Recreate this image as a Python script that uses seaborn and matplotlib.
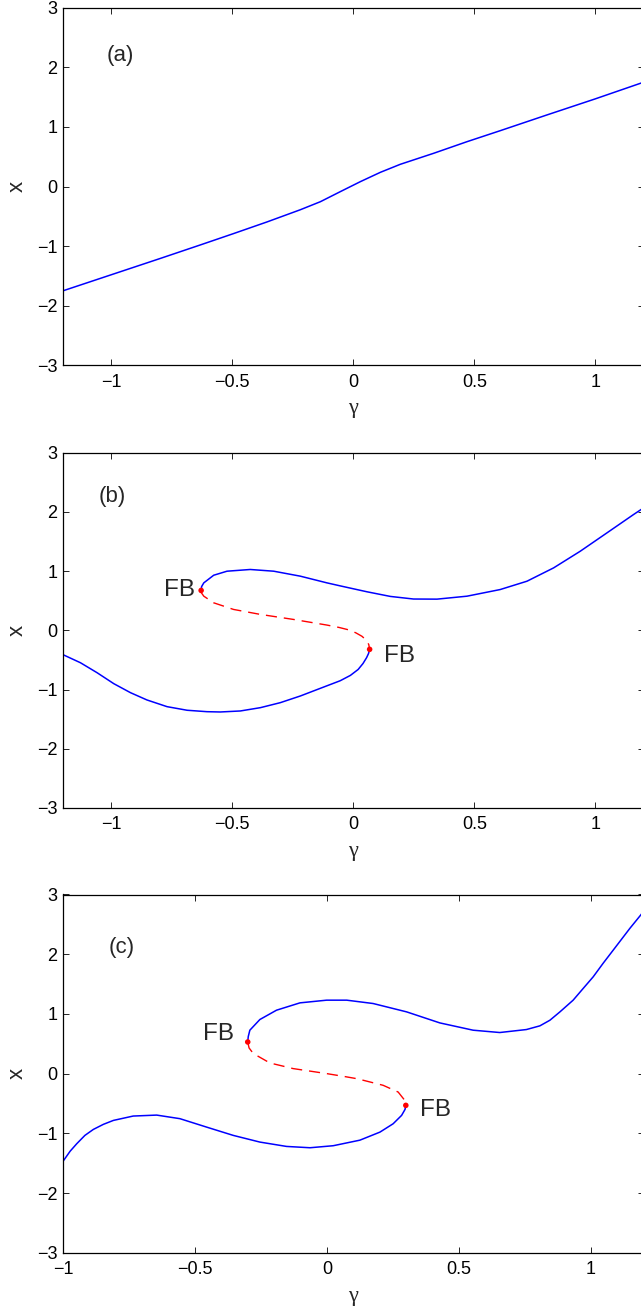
import matplotlib
matplotlib.use("Agg")
import matplotlib.pyplot as plt
import seaborn as sns
import pandas as pd
from matplotlib.ticker import FuncFormatter

# panel (a): single stable branch
gam_a = [-1.2, -1.0, -0.8, -0.632, -0.495, -0.357, -0.219, -0.136, -0.054, 0.029, 0.112, 0.194, 0.332, 0.470, 0.607, 0.8, 1.0, 1.2]
x_a = [-1.75, -1.48, -1.21, -0.98, -0.79, -0.595, -0.39, -0.255, -0.087, 0.081, 0.238, 0.372, 0.557, 0.752, 0.936, 1.20, 1.47, 1.75]

# panel (b): upper stable, unstable (dashed), lower stable
gam_b_up = [-0.629, -0.627, -0.618, -0.577, -0.522, -0.426, -0.329, -0.219, -0.109, -0.054, 0.029, 0.057, 0.153, 0.249,
            0.346, 0.470, 0.607, 0.718, 0.828, 0.938, 1.048, 1.158, 1.2]
x_b_up = [0.675, 0.74, 0.803, 0.932, 1.0, 1.029, 1.0, 0.916, 0.803, 0.752, 0.677, 0.652, 0.574, 0.53,
          0.528, 0.578, 0.69, 0.831, 1.056, 1.337, 1.646, 1.956, 2.07]
gam_b_mid = [-0.629, -0.627, -0.618, -0.577, -0.495, -0.384, -0.247, -0.109, -0.059, -0.02, 0.01, 0.036, 0.055, 0.064, 0.0675]
x_b_mid = [0.675, 0.63, 0.578, 0.466, 0.354, 0.27, 0.185, 0.09, 0.05, 0.01, -0.04, -0.10, -0.17, -0.24, -0.32]
gam_b_low = [-1.2, -1.128, -1.059, -0.990, -0.921, -0.853, -0.770, -0.687, -0.605, -0.550, -0.467, -0.384, -0.302,
             -0.219, -0.136, -0.054, -0.012, 0.020, 0.040, 0.055, 0.063, 0.0675]
x_b_low = [-0.41, -0.546, -0.715, -0.90, -1.052, -1.175, -1.288, -1.349, -1.373, -1.378, -1.361, -1.305, -1.221,
           -1.108, -0.978, -0.85, -0.76, -0.66, -0.56, -0.46, -0.39, -0.32]
fb_b_gam = [-0.629, 0.0675]
fb_b_x = [0.675, -0.32]

# panel (c)
gam_c_up = [-0.300, -0.298, -0.292, -0.254, -0.191, -0.102, -0.001, 0.075, 0.175, 0.302, 0.428, 0.554, 0.655, 0.756,
            0.807, 0.845, 0.883, 0.933, 0.971, 1.009, 1.047, 1.085, 1.116, 1.148, 1.189, 1.2]
x_c_up = [0.53, 0.62, 0.727, 0.906, 1.062, 1.185, 1.23, 1.23, 1.174, 1.034, 0.849, 0.727, 0.688, 0.738,
          0.80, 0.894, 1.034, 1.23, 1.426, 1.621, 1.85, 2.069, 2.248, 2.433, 2.656, 2.72]
gam_c_mid = [-0.300, -0.295, -0.279, -0.216, -0.128, -0.001, 0.068, 0.112, 0.138, 0.213, 0.270, 0.295, 0.299]
x_c_mid = [0.53, 0.43, 0.336, 0.178, 0.084, 0.0, -0.05, -0.084, -0.112, -0.196, -0.309, -0.448, -0.532]
gam_c_low = [-1.0, -0.973, -0.948, -0.917, -0.885, -0.847, -0.809, -0.734, -0.645, -0.557, -0.456, -0.355, -0.254,
             -0.153, -0.064, 0.024, 0.125, 0.201, 0.251, 0.283, 0.296, 0.299]
x_c_low = [-1.47, -1.30, -1.175, -1.035, -0.935, -0.85, -0.784, -0.711, -0.695, -0.755, -0.896, -1.035, -1.147,
           -1.22, -1.242, -1.208, -1.115, -0.98, -0.84, -0.70, -0.60, -0.532]
fb_c_gam = [-0.300, 0.299]
fb_c_x = [0.53, -0.532]

x_ticks = [-1, -0.5, 0, 0.5, 1]
y_ticks = [-3, -2, -1, 0, 1, 2, 3]

sns.set_theme(style="ticks")
plt.rcParams["font.family"] = ["Liberation Sans", "DejaVu Sans"]
plt.rcParams["axes.unicode_minus"] = True

fig = plt.figure(figsize=(6.41, 13.11), dpi=100)
W, H = 641.0, 1311.0


def make_ax(top_px, bot_px):
    left = 63.0
    right = 643.6
    return fig.add_axes([left / W, 1 - bot_px / H, (right - left) / W, (bot_px - top_px) / H])


def branch(ax, g, x, stable=True):
    df = pd.DataFrame({"g": g, "x": x})
    if stable:
        sns.lineplot(data=df, x="g", y="x", sort=False, estimator=None, color="#0000ff", lw=1.1, ax=ax)
    else:
        sns.lineplot(data=df, x="g", y="x", sort=False, estimator=None, color="#ff0000", lw=1.0,
                     linestyle=(0, (8, 5)), ax=ax)


def fold_points(ax, g, x):
    df = pd.DataFrame({"g": g, "x": x})
    sns.scatterplot(data=df, x="g", y="x", color="#ff0000", s=16, edgecolor="none", zorder=5, ax=ax)


def style_ax(ax, xmin):
    ax.set_xlim(xmin, 1.2)
    ax.set_ylim(-3, 3)
    ax.set_xticks(x_ticks)
    ax.set_yticks(y_ticks)
    fmt = FuncFormatter(lambda v, p: ("%g" % v).replace("-", "\u2212"))
    ax.xaxis.set_major_formatter(fmt)
    ax.yaxis.set_major_formatter(fmt)
    ax.tick_params(direction="in", top=True, right=True, length=4, width=0.6,
                   labelsize=13, colors="black")
    ax.tick_params(axis="x", pad=6)
    ax.tick_params(axis="y", pad=4)
    for s in ax.spines.values():
        s.set_linewidth(0.9)
        s.set_color("black")
    ax.set_xlabel("\u03b3", fontsize=16, family=["Liberation Serif", "DejaVu Serif"])
    ax.set_ylabel("x", fontsize=16)
    ax.xaxis.set_label_coords(0.5, -0.095)
    ax.yaxis.set_label_coords(-0.06, 0.5)


ax1 = make_ax(7.7, 365.3)
branch(ax1, gam_a, x_a)
style_ax(ax1, -1.2)
ax1.text(-1.02, 2.19, "(a)", fontsize=16, va="center", ha="left")

ax2 = make_ax(452.8, 808.0)
branch(ax2, gam_b_up, x_b_up)
branch(ax2, gam_b_low, x_b_low)
branch(ax2, gam_b_mid, x_b_mid, stable=False)
fold_points(ax2, fb_b_gam, fb_b_x)
style_ax(ax2, -1.2)
ax2.text(-1.051, 2.27, "(b)", fontsize=16, va="center", ha="left")
ax2.text(-0.655, 0.68, "FB", fontsize=17.5, va="center", ha="right")
ax2.text(0.127, -0.43, "FB", fontsize=17.5, va="center", ha="left")

ax3 = make_ax(894.5, 1252.7)
branch(ax3, gam_c_up, x_c_up)
branch(ax3, gam_c_low, x_c_low)
branch(ax3, gam_c_mid, x_c_mid, stable=False)
fold_points(ax3, fb_c_gam, fb_c_x)
style_ax(ax3, -1.0)
ax3.text(-0.829, 2.12, "(c)", fontsize=16, va="center", ha="left")
ax3.text(-0.353, 0.67, "FB", fontsize=17.5, va="center", ha="right")
ax3.text(0.352, -0.61, "FB", fontsize=17.5, va="center", ha="left")

fig.savefig("out.png", dpi=100)
